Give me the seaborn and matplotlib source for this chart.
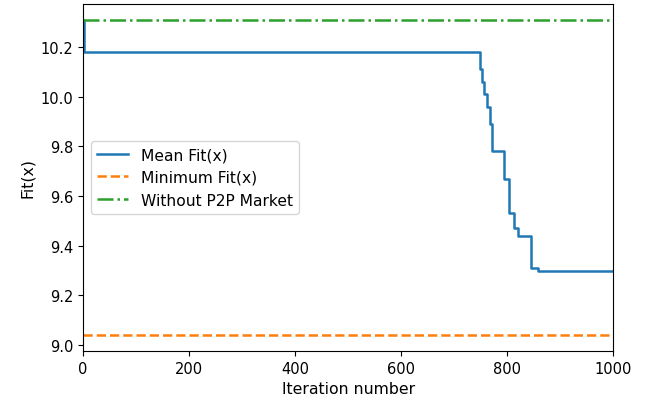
import numpy as np
import matplotlib
matplotlib.use("Agg")
import matplotlib.pyplot as plt
import seaborn as sns

# Mean Fit(x) step changes (iteration where value changes, value from there on)
step_iter = [0, 1, 748, 753, 757, 762, 768, 771, 793, 804, 813, 820, 845, 858, 1000]
step_fit = [10.31, 10.18, 10.11, 10.06, 10.01, 9.96, 9.89, 9.78, 9.67, 9.53,
            9.47, 9.44, 9.31, 9.30, 9.30]

# constant reference levels
iter_span = [0, 1000]
min_fit = [9.04, 9.04]
no_p2p_fit = [10.31, 10.31]

plt.rcParams["xtick.labelsize"] = 10.5
plt.rcParams["ytick.labelsize"] = 10.5
plt.rcParams["axes.labelsize"] = 11.3
plt.rcParams["legend.fontsize"] = 11.2
plt.rcParams["lines.linewidth"] = 1.8

fig, ax = plt.subplots(figsize=(6.49, 4.06), dpi=100)
fig.subplots_adjust(left=0.128, right=0.945, bottom=0.133, top=0.988)

sns.lineplot(x=step_iter, y=step_fit, ax=ax, color="C0", drawstyle="steps-post",
             label="Mean Fit(x)")
sns.lineplot(x=iter_span, y=min_fit, ax=ax, color="C1", linestyle="--",
             label="Minimum Fit(x)")
sns.lineplot(x=iter_span, y=no_p2p_fit, ax=ax, color="C2", linestyle="-.",
             label="Without P2P Market")

ax.set_xlim(0, 1000)
ax.set_xlabel("Iteration number")
ax.set_ylabel("Fit(x)")
ax.legend(loc="center left")

fig.savefig("out.png", dpi=100)
